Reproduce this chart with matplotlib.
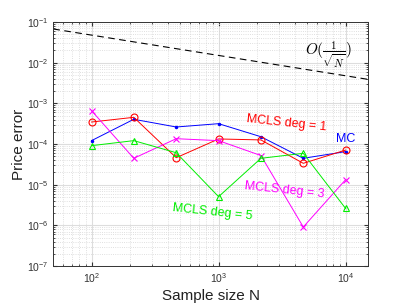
import numpy as np
import matplotlib
matplotlib.use('Agg')
import matplotlib.pyplot as plt

plt.rcParams['font.family'] = ['Liberation Sans', 'DejaVu Sans']
plt.rcParams['mathtext.fontset'] = 'cm'

# sample sizes (log-spaced 10^2 ... 10^4)
N = [100, 215, 464, 1000, 2154, 4642, 10000]

mc = [1.21e-4, 4.05e-4, 2.62e-4, 3.16e-4, 1.51e-4, 4.45e-5, 6.5e-5]
mcls1 = [3.47e-4, 4.53e-4, 4.6e-5, 1.33e-4, 1.26e-4, 3.35e-5, 7.1e-5]
mcls3 = [6.6e-4, 4.45e-5, 1.35e-4, 1.21e-4, 5.2e-5, 9.1e-7, 1.33e-5]
mcls5 = [9.1e-5, 1.21e-4, 6.1e-5, 5.07e-6, 4.45e-5, 5.9e-5, 2.6e-6]

# reference rate line C/sqrt(N)
ref_N = [50, 15000]
ref_C = 0.476

fig = plt.figure(figsize=(4.07, 3.05), dpi=100)
ax = fig.add_axes([53.3/407, 1 - 266/305, (368 - 53.3)/407, (266 - 22)/305])

ax.plot(ref_N, [ref_C / np.sqrt(n) for n in ref_N], 'k--', lw=0.8, dashes=(6, 4))
ax.plot(N, mc, 'b.-', lw=0.7, ms=3)
ax.plot(N, mcls1, 'r-o', lw=0.7, ms=5, mfc='none', mew=0.8)
ax.plot(N, mcls3, '-x', color='#ff00ff', lw=0.7, ms=4, mew=0.8)
ax.plot(N, mcls5, '-^', color='#00ee00', lw=0.7, ms=5, mfc='none', mew=0.8)

ax.set_xscale('log')
ax.set_yscale('log')
ax.set_xlim(50, 15000)
ax.set_ylim(1e-7, 1e-1)
ax.set_yticks([1e-7, 1e-6, 1e-5, 1e-4, 1e-3, 1e-2, 1e-1])

ax.grid(True, which='major', color='#dddddd', lw=0.8)
ax.grid(True, which='minor', color='#d5d5d5', lw=0.6, ls=':')
ax.tick_params(which='both', direction='in', top=True, right=True, labelsize=7.5,
               colors='#333333', length=3)
ax.tick_params(which='minor', length=1.5)
for s in ax.spines.values():
    s.set_color('#333333')
    s.set_linewidth(0.7)

ax.set_xlabel('Sample size N', fontsize=11, color='#222222', labelpad=3)
ax.set_ylabel('Price error', fontsize=11, color='#222222')
ax.yaxis.set_label_coords(-0.088, 0.5)

ax.text(4.8e3, 1.55e-2, r'$O(\frac{1}{\sqrt{N}})$', fontsize=11, va='center')
ax.text(3.45e3, 3.3e-4, 'MCLS deg = 1', color='red', fontsize=9, rotation=-6,
        ha='center', va='center')
ax.text(1.0e4, 1.3e-4, 'MC', color='blue', fontsize=9, ha='center', va='center')
ax.text(3.3e3, 7.4e-6, 'MCLS deg = 3', color='#ff00ff', fontsize=9, rotation=-6,
        ha='center', va='center')
ax.text(900, 2.1e-6, 'MCLS deg = 5', color='#00ee00', fontsize=9, rotation=-6,
        ha='center', va='center')

fig.savefig('out.png', dpi=100)
